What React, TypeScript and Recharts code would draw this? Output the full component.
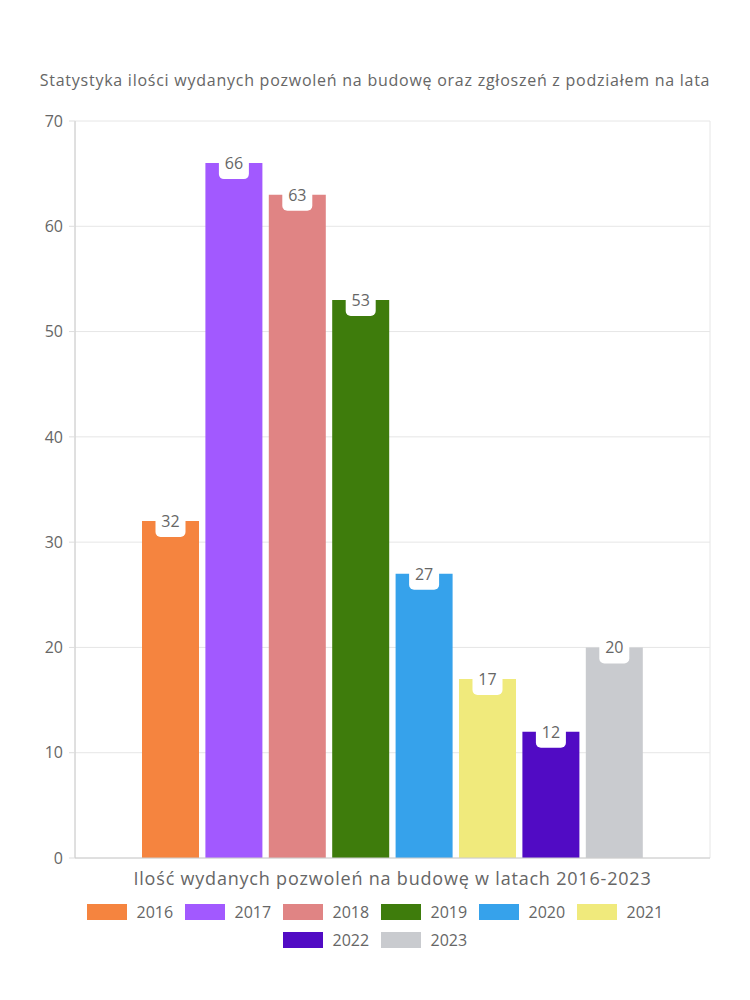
import { Bar, BarChart, CartesianGrid, Legend, XAxis, YAxis } from 'recharts';

const title = 'Statystyka ilości wydanych pozwoleń na budowę oraz zgłoszeń z podziałem na lata';
const category = 'Ilość wydanych pozwoleń na budowę w latach 2016-2023';
const years = ['2016', '2017', '2018', '2019', '2020', '2021', '2022', '2023'];
const counts = [32, 66, 63, 53, 27, 17, 12, 20];
const colors = ['#F5843F', '#A259FF', '#E08484', '#3E7C0C', '#36A2EB', '#F0EA7C', '#510BC4', '#C9CBCF'];
const yTicks = [0, 10, 20, 30, 40, 50, 60, 70];

const row: Record<string, string | number> = { name: category };
years.forEach((y, i) => {
  row[y] = counts[i];
});
const data = [row];

const FONT = '"Open Sans", sans-serif';

const BadgeLabel = (props: any) => {
  const { x, y, width, value } = props;
  const cx = x + width / 2;
  return (
    <g>
      <rect x={cx - 15} y={y - 6} width={30} height={22} rx={5} fill="#fff" />
      <text x={cx} y={y} textAnchor="middle" dominantBaseline="central" fill="#666" fontSize={16} fontFamily={FONT}>
        {value}
      </text>
    </g>
  );
};

const LegendContent = () => (
  <div
    style={{
      display: 'flex',
      flexWrap: 'wrap',
      justifyContent: 'center',
      width: 600,
      margin: '0 auto',
      rowGap: 12,
      columnGap: 11,
      fontFamily: FONT
    }}
  >
    {years.map((y, i) => (
      <div key={y} style={{ display: 'flex', alignItems: 'center', height: 16 }}>
        <div style={{ width: 40, height: 16, background: colors[i], marginRight: 10 }} />
        <span style={{ fontSize: 16, color: '#666', width: 37 }}>{y}</span>
      </div>
    ))}
  </div>
);

const App = () => {
  return (
    <div style={{ position: 'absolute', top: 0, left: 0, width: 750, height: 1000, background: '#fff' }}>
      <div
        style={{
          position: 'absolute',
          top: 69,
          left: 0,
          width: 750,
          textAlign: 'center',
          fontFamily: FONT,
          fontSize: 16,
          letterSpacing: 0.75,
          color: '#666',
          zIndex: 1
        }}
      >
        {title}
      </div>
      <BarChart
        width={750}
        height={1000}
        data={data}
        margin={{ top: 121, right: 40, bottom: 102, left: 0 }}
        barSize={57}
        barGap={6.4}
      >
        <CartesianGrid
          stroke="#e6e6e6"
          verticalCoordinatesGenerator={({ offset }: any) => [offset.left, offset.left + offset.width]}
        />
        <YAxis
          width={75}
          domain={[0, 70]}
          ticks={yTicks}
          interval={0}
          tick={{ fill: '#666', fontSize: 16, fontFamily: FONT }}
          tickLine={{ stroke: '#ddd' }}
          tickSize={6}
          tickMargin={6}
          axisLine={{ stroke: '#ccc' }}
        />
        <XAxis
          dataKey="name"
          height={40}
          tick={false}
          tickLine={false}
          axisLine={{ stroke: '#ccc' }}
          label={{
            value: category,
            position: 'insideTop',
            offset: 14,
            fill: '#666',
            fontSize: 18,
            letterSpacing: 0.8,
            fontFamily: FONT
          }}
        />
        <Legend
          layout="horizontal"
          verticalAlign="middle"
          align="center"
          wrapperStyle={{ top: 904, left: 0, width: 750 }}
          content={<LegendContent />}
        />
        {years.map((y, i) => (
          <Bar key={y} dataKey={y} fill={colors[i]} isAnimationActive={false} label={<BadgeLabel />} />
        ))}
      </BarChart>
    </div>
  );
};

export default App;
